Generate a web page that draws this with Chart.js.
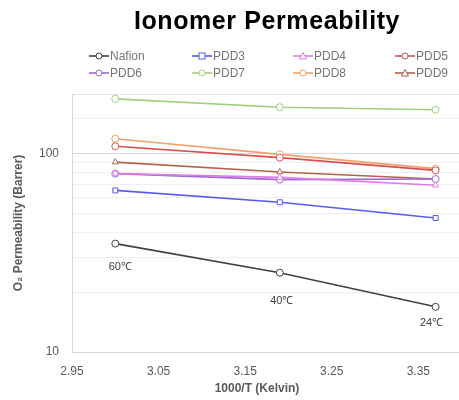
<!DOCTYPE html>
<html>
<head>
<meta charset="utf-8">
<script src="https://cdn.jsdelivr.net/npm/chart.js@4/dist/chart.umd.min.js"></script>
<style>
  html, body { margin: 0; padding: 0; background: #fff; overflow: hidden; }
  #wrap { position: relative; width: 459px; height: 400px; }
  #chartBox { position: absolute; left: 0; top: 0; width: 459px; height: 400px; }
  #title { position: absolute; left: 117px; width: 300px; top: 8px; text-align: center;
           font: bold 25px "Liberation Sans", Arial, sans-serif; line-height: 25px; letter-spacing: 0.6px; color: #000; }
  .lg { position: absolute; display: flex; align-items: center; height: 14px;
        font: 12px "Liberation Sans", Arial, sans-serif; color: #767676; white-space: nowrap; }
  .lg svg { display: block; margin-right: 1px; }
  #xtitle { position: absolute; left: 157px; width: 200px; top: 381px; text-align: center;
            font: bold 12px "Liberation Sans", Arial, sans-serif; line-height: 14px; color: #595959; }
</style>
</head>
<body>
<div id="wrap">
  <div id="chartBox"><canvas id="c"></canvas></div>
  <div id="title">Ionomer Permeability</div>
  <div id="legend"></div>
  <div id="xtitle">1000/T (Kelvin)</div>
</div>
<script>
// ---- data ----
const xValues = [3.00, 3.19, 3.37];          // 1000/T
const tempLabels = ['60\u2103', '40\u2103', '24\u2103'];
const seriesNames = ['Nafion', 'PDD3', 'PDD4', 'PDD5', 'PDD6', 'PDD7', 'PDD8', 'PDD9'];
const nafion = [35.2, 25.1, 16.9];
const pdd3 = [65.3, 56.9, 47.4];
const pdd4 = [79.5, 76.0, 69.3];
const pdd5 = [109, 95.5, 82.4];
const pdd6 = [79.3, 74.0, 74.5];
const pdd7 = [189, 171.6, 166.5];
const pdd8 = [119, 99.2, 84.1];
const pdd9 = [90.7, 80.8, 74.5];
const xTicks = [2.95, 3.05, 3.15, 3.25, 3.35];
const yTickLabels = [10, 100];

// ---- styles ----
const seriesValues = [nafion, pdd3, pdd4, pdd5, pdd6, pdd7, pdd8, pdd9];
const colors = ['#404040', '#5a5af0', '#e27ae6', '#d8504c', '#9c6cd2', '#9fd07c', '#f3a06a', '#b5614e'];
const markers = ['circle', 'rect', 'triangle', 'circle', 'circle', 'circle', 'circle', 'triangle'];

const datasets = seriesNames.map((name, i) => ({
  label: name,
  data: xValues.map((x, j) => ({ x: x, y: seriesValues[i][j] })),
  borderColor: colors[i],
  backgroundColor: '#ffffff',
  pointBorderColor: colors[i],
  pointBackgroundColor: '#ffffff',
  pointStyle: markers[i],
  pointRadius: 3.5,
  pointBorderWidth: 1,
  borderWidth: 1.6,
  tension: 0,
  fill: false
}));

// ---- HTML legend (4-column grid like the source) ----
const legendCols = [89, 192, 293, 395];
const legendRows = [49, 66];
const legendEl = document.getElementById('legend');
seriesNames.forEach((name, i) => {
  const d = document.createElement('div');
  d.className = 'lg';
  d.style.left = legendCols[i % 4] + 'px';
  d.style.top = legendRows[Math.floor(i / 4)] + 'px';
  let m = '';
  const c = colors[i];
  if (markers[i] === 'circle') m = `<circle cx="10" cy="5" r="3" fill="#fff" stroke="${c}" stroke-width="1"/>`;
  else if (markers[i] === 'rect') m = `<rect x="7" y="2" width="6" height="6" fill="#fff" stroke="${c}" stroke-width="1"/>`;
  else m = `<polygon points="10,1.5 13.5,8 6.5,8" fill="#fff" stroke="${c}" stroke-width="1"/>`;
  d.innerHTML = `<svg width="20" height="10"><line x1="0" y1="5" x2="20" y2="5" stroke="${c}" stroke-width="1.6"/>${m}</svg><span>${name}</span>`;
  legendEl.appendChild(d);
});

// ---- temperature labels beside the Nafion points ----
const labelOffsets = [[5, 23], [2, 28], [-4, 16]];
const tempLabelPlugin = {
  id: 'tempLabels',
  afterDatasetsDraw(chart) {
    const meta = chart.getDatasetMeta(0);
    const ctx = chart.ctx;
    ctx.save();
    ctx.font = '11px "Liberation Sans", Arial, sans-serif';
    ctx.fillStyle = '#404040';
    ctx.textAlign = 'center';
    ctx.textBaseline = 'middle';
    meta.data.forEach((pt, j) => {
      ctx.fillText(tempLabels[j], pt.x + labelOffsets[j][0], pt.y + labelOffsets[j][1]);
    });
    ctx.restore();
  }
};

new Chart(document.getElementById('c'), {
  type: 'line',
  data: { datasets: datasets },
  plugins: [tempLabelPlugin],
  options: {
    responsive: true,
    maintainAspectRatio: false,
    animation: false,
    layout: { autoPadding: false, padding: { top: 94, right: 0, bottom: 0, left: 0 } },
    plugins: {
      legend: { display: false },
      title: { display: false },
      tooltip: { enabled: false }
    },
    scales: {
      x: {
        type: 'linear',
        min: 2.95,
        max: 3.397,
        afterBuildTicks: (scale) => { scale.ticks = xTicks.map(v => ({ value: v })); },
        afterFit: (scale) => { scale.height = 48; },
        ticks: {
          callback: (v) => Number(v).toFixed(2),
          font: { family: '"Liberation Sans", Arial, sans-serif', size: 12 },
          color: '#595959',
          padding: 12,
          maxRotation: 0
        },
        grid: { display: false, drawTicks: false },
        border: { display: true, color: '#d9d9d9', width: 1 }
      },
      y: {
        type: 'logarithmic',
        min: 10,
        max: 200,
        afterFit: (scale) => { scale.width = 72; },
        ticks: {
          callback: (v) => yTickLabels.includes(v) ? String(v) : '',
          font: { family: '"Liberation Sans", Arial, sans-serif', size: 12 },
          color: '#595959',
          padding: 13,
          autoSkip: false
        },
        grid: {
          drawTicks: false,
          color: (ctx) => {
            const v = ctx.tick && ctx.tick.value;
            if (v === 100) return '#d9d9d9';
            if (v === 200) return '#e6e6e6';
            return '#f0f0f0';
          },
          lineWidth: 1
        },
        border: { display: true, color: '#d9d9d9', width: 1 },
        title: {
          display: true,
          text: 'O\u2082 Permeability (Barrer)',
          font: { family: '"Liberation Sans", Arial, sans-serif', size: 12, weight: 'bold' },
          color: '#595959',
          padding: { top: 11, bottom: 0 }
        }
      }
    }
  }
});
</script>
</body>
</html>
